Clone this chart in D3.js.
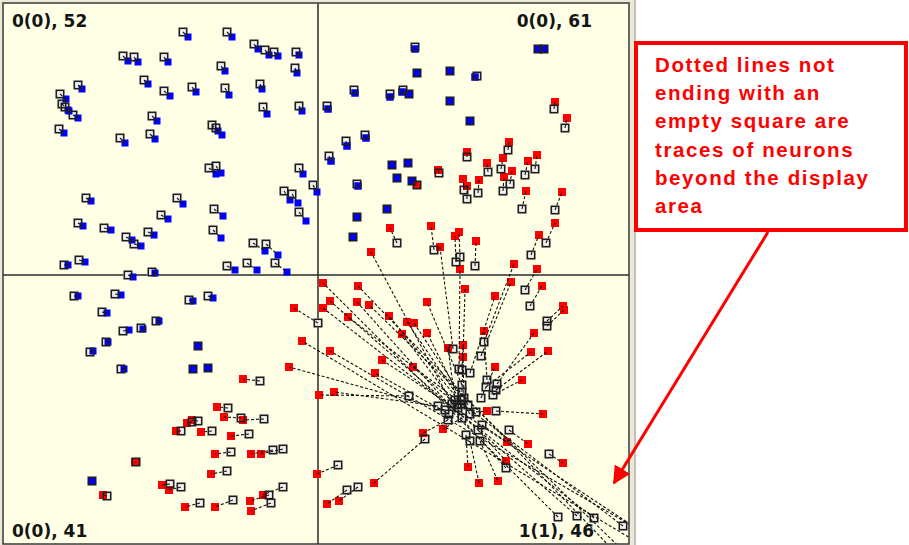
<!DOCTYPE html>
<html>
<head>
<meta charset="utf-8">
<script src="https://cdn.jsdelivr.net/npm/d3@7"></script>
<style>
  html, body { margin: 0; padding: 0; background: #ffffff; overflow: hidden; }
  svg { display: block; }
</style>
</head>
<body>
<svg id="chart" width="909" height="545"></svg>
<script>
// Map coordinates (map units, origin at the quadrant cross, y pointing up).
// Every row: [neuronX, neuronY, sampleX, sampleY]
// The neuron is drawn as an empty square, the sample as a filled square,
// and a dotted trace joins the two.

const quadrantLabels = ["0(0), 52", "0(0), 61", "0(0), 41", "1(1), 46"];

const blueTopLeft = [
  [-135,243,-130,238], [-91,243,-86,238], [-64,231,-60,226], [-53,225,-49,220],
  [-44,223,-40,219], [-22,223,-19,220], [-195,219,-190,214], [-184,218,-180,213],
  [-154,218,-150,213], [-97,209,-93,204], [-23,207,-21,202], [-240,190,-236,186],
  [-174,195,-170,191], [-154,184,-148,179], [-126,188,-122,183], [-93,187,-89,180],
  [-58,191,-56,186], [-258,181,-252,176], [-256,171,-250,165], [-253,168,-249,164],
  [-245,160,-240,157], [-55,168,-51,161], [-19,169,-16,164], [-166,159,-161,154],
  [-106,150,-100,144], [-102,147,-96,140], [-259,146,-254,142], [-198,137,-193,132],
  [-168,141,-163,136], [-109,107,-102,101], [-102,109,-97,102], [-19,107,-15,101],
  [-5,90,-1,83], [-34,84,-28,75], [-26,81,-20,72], [-19,63,-12,54],
  [-232,77,-227,74], [-141,77,-135,71], [-104,66,-95,59], [-157,60,-150,56],
  [-240,52,-235,49], [-214,47,-207,45], [-105,45,-97,37], [-170,43,-164,40],
  [-192,38,-186,35], [-184,31,-177,29], [-65,32,-53,24], [-52,31,-40,20],
  [-254,10,-250,10], [-239,15,-233,13], [-91,9,-83,5], [-71,12,-61,5],
  [-43,12,-31,3], [-190,0,-185,-2], [-166,3,-163,2]
];

const blueTopRight = [
  [97,228,97,226], [220,226,220,226], [226,226,226,226], [99,202,99,202],
  [132,204,132,204], [159,199,157,198], [36,185,37,182], [72,181,72,178],
  [85,185,84,183], [91,181,91,181], [132,174,132,174], [152,154,152,154],
  [9,169,10,166], [47,140,48,137], [28,134,29,129], [11,119,13,114],
  [74,110,74,110], [90,112,90,112], [79,97,79,97], [94,94,94,94],
  [39,91,40,89], [69,66,69,66], [39,58,39,58], [35,38,35,38]
];

const blueBottomLeft = [
  [-244,-21,-240,-21], [-203,-19,-197,-20], [-129,-25,-125,-26], [-110,-21,-105,-23],
  [-216,-37,-211,-38], [-162,-46,-159,-46], [-195,-56,-189,-55], [-177,-53,-175,-54],
  [-212,-67,-210,-67], [-228,-77,-225,-76], [-120,-71,-120,-71], [-197,-94,-194,-94],
  [-125,-94,-125,-94], [-110,-93,-110,-93], [-226,-206,-226,-206]
];

const redTopRight = [
  [236,166,237,173], [247,147,249,157], [190,125,191,133], [149,118,149,123],
  [121,102,120,105], [170,103,169,112], [183,106,185,117], [207,100,210,114],
  [217,106,219,120], [192,91,194,104], [185,84,186,98], [146,85,145,96],
  [149,76,149,89], [160,82,161,95], [204,66,208,84], [237,65,244,83],
  [79,32,72,47], [116,25,113,49], [142,18,141,43], [138,13,137,39],
  [157,9,158,34], [228,32,237,52], [213,20,221,40], [99,90,99,90],
  [135,-74,122,28], [141,-94,142,6], [166,-67,196,11], [207,-15,219,6],
  [134,-129,53,23]
];

const redBottomLeft = [
  [0,-48,-24,-33], [482,-365,-16,-66], [127,-135,-29,-92], [-58,-106,-75,-104],
  [-90,-133,-101,-132], [-77,-143,-94,-142], [-54,-144,-75,-145], [-120,-146,-126,-145],
  [-126,-147,-131,-148], [-137,-156,-142,-156], [-106,-156,-117,-157], [-69,-159,-87,-161],
  [-87,-177,-103,-179], [-45,-175,-67,-179], [-35,-174,-57,-179], [-182,-187,-183,-187],
  [-91,-196,-107,-199], [-148,-209,-156,-210], [-137,-212,-149,-215], [-211,-221,-215,-220],
  [-118,-228,-133,-232], [-85,-225,-103,-232], [-49,-220,-68,-226], [-35,-212,-55,-220],
  [-47,-228,-67,-236]
];

const redBottomRight = [
  [240,-242,5,-8], [259,-241,12,-26], [276,-243,5,-33], [305,-251,30,-42],
  [382,-365,40,-11], [188,-193,39,-27], [382,-350,51,-30], [144,-129,71,-41],
  [152,-139,89,-47], [150,-130,96,-48], [144,-110,109,-27], [144,-117,147,-14],
  [163,-81,193,-7], [152,-98,177,-21], [212,-31,224,-11], [229,-46,245,-31],
  [229,-51,246,-35], [140,-133,84,-59], [143,-125,109,-58], [169,-105,166,-56],
  [144,-95,145,-70], [137,-125,130,-73], [146,-123,145,-82], [442,-325,12,-76],
  [442,-335,64,-85], [139,-130,95,-92], [91,-121,1,-120], [120,-131,16,-117],
  [163,-123,177,-92], [179,-109,216,-58], [168,-112,213,-77], [178,-115,230,-76],
  [175,-120,204,-105], [131,-139,57,-98], [178,-136,225,-139], [158,-137,169,-136],
  [144,-143,125,-154], [130,-145,105,-158], [107,-164,56,-208], [164,-150,189,-167],
  [191,-155,210,-169], [231,-179,245,-188], [160,-155,188,-186], [148,-160,150,-192],
  [152,-166,161,-208], [162,-166,180,-206], [20,-190,-1,-199], [40,-212,21,-226],
  [29,-215,9,-229]
];

const noteLines = [
  "Dotted lines not",
  "ending with an",
  "empty square are",
  "traces of neurons",
  "beyond the display",
  "area"
];

// ---------------------------------------------------------------------------

const svg = d3.select("#chart");
const frame = { left: 3, top: 3, right: 629, bottom: 544 };

const x = d3.scaleLinear().domain([-315, 311]).range([frame.left, frame.right]);
const y = d3.scaleLinear().domain([272, -269]).range([frame.top, frame.bottom]);

// window surround
svg.append("rect")
  .attr("x", 0).attr("y", 0).attr("width", 636).attr("height", 545)
  .attr("fill", "#ece9d8");
svg.append("line")
  .attr("x1", 635).attr("x2", 635).attr("y1", 0).attr("y2", 545)
  .attr("stroke", "#9c9a90").attr("stroke-width", 1);

svg.append("defs").append("clipPath").attr("id", "plotClip")
  .append("rect")
  .attr("x", frame.left).attr("y", frame.top)
  .attr("width", frame.right - frame.left).attr("height", frame.bottom - frame.top);

svg.append("rect")
  .attr("x", frame.left).attr("y", frame.top)
  .attr("width", frame.right - frame.left).attr("height", frame.bottom - frame.top)
  .attr("fill", "#ffffe6");

const plot = svg.append("g").attr("clip-path", "url(#plotClip)");

// quadrant dividers
plot.append("line")
  .attr("x1", x(0)).attr("x2", x(0)).attr("y1", frame.top).attr("y2", frame.bottom)
  .attr("stroke", "#2a2a2a").attr("stroke-width", 1.5);
plot.append("line")
  .attr("x1", frame.left).attr("x2", frame.right).attr("y1", y(0)).attr("y2", y(0))
  .attr("stroke", "#2a2a2a").attr("stroke-width", 1.5);

const groups = [
  { rows: blueTopLeft, color: "#0000ff", size: 7 },
  { rows: blueTopRight, color: "#0000ff", size: 7.5 },
  { rows: blueBottomLeft, color: "#0000ff", size: 7 },
  { rows: redTopRight, color: "#ff0000", size: 8 },
  { rows: redBottomLeft, color: "#ff0000", size: 8 },
  { rows: redBottomRight, color: "#ff0000", size: 8 }
];
const neurons = groups.flatMap(g => g.rows.map(r => ({
  nx: r[0], ny: r[1], sx: r[2], sy: r[3], color: g.color, size: g.size
})));

const box = 9;

// neuron square interiors
plot.append("g").selectAll("rect").data(neurons).join("rect")
  .attr("x", d => x(d.nx) - box / 2).attr("y", d => y(d.ny) - box / 2)
  .attr("width", box).attr("height", box)
  .attr("fill", "#f3f3ee");

// samples
plot.append("g").selectAll("rect").data(neurons).join("rect")
  .attr("x", d => x(d.sx) - d.size / 2).attr("y", d => y(d.sy) - d.size / 2)
  .attr("width", d => d.size).attr("height", d => d.size)
  .attr("fill", d => d.color);

// dotted traces
plot.append("g").selectAll("line").data(neurons).join("line")
  .attr("x1", d => x(d.nx)).attr("y1", d => y(d.ny))
  .attr("x2", d => x(d.sx)).attr("y2", d => y(d.sy))
  .attr("stroke", "#111").attr("stroke-width", 1.1)
  .attr("stroke-dasharray", "3,2");

// neuron square outlines
plot.append("g").selectAll("rect").data(neurons).join("rect")
  .attr("x", d => x(d.nx) - box / 2 + 0.8).attr("y", d => y(d.ny) - box / 2 + 0.8)
  .attr("width", box - 1.6).attr("height", box - 1.6)
  .attr("fill", "none").attr("stroke", "#1e1e1e").attr("stroke-width", 1.6);

// frame border
svg.append("rect")
  .attr("x", frame.left).attr("y", frame.top)
  .attr("width", frame.right - frame.left).attr("height", frame.bottom - frame.top)
  .attr("fill", "none").attr("stroke", "#3a3a3a").attr("stroke-width", 1.5);

// quadrant captions
const labelPos = [
  { x: 12, y: 27, anchor: "start" },
  { x: 592, y: 27, anchor: "end" },
  { x: 12, y: 537, anchor: "start" },
  { x: 594, y: 537, anchor: "end" }
];
svg.append("g").selectAll("text").data(quadrantLabels).join("text")
  .attr("x", (d, i) => labelPos[i].x).attr("y", (d, i) => labelPos[i].y)
  .attr("text-anchor", (d, i) => labelPos[i].anchor)
  .attr("font-family", "'DejaVu Sans', sans-serif")
  .attr("font-weight", "bold").attr("font-size", 17)
  .attr("fill", "#141414")
  .text(d => d);

// callout
const note = svg.append("g");
note.append("rect")
  .attr("x", 636).attr("y", 43).attr("width", 270).attr("height", 187)
  .attr("fill", "#ffffff").attr("stroke", "#ff0000").attr("stroke-width", 4);
note.append("g").selectAll("text").data(noteLines).join("text")
  .attr("x", 655).attr("y", (d, i) => 72 + i * 28.2)
  .attr("font-family", "'Liberation Sans', Arial, sans-serif")
  .attr("font-weight", "bold").attr("font-size", 20.5)
  .attr("letter-spacing", 1.6)
  .attr("fill", "#ff0000")
  .text(d => d);

svg.append("defs").append("marker")
  .attr("id", "arrowHead").attr("viewBox", "0 0 10 10")
  .attr("refX", 9).attr("refY", 5)
  .attr("markerWidth", 6).attr("markerHeight", 6)
  .attr("markerUnits", "strokeWidth")
  .attr("orient", "auto")
  .append("path").attr("d", "M0,0 L10,5 L0,10 Z").attr("fill", "#ff0000");

note.append("line")
  .attr("x1", 768).attr("y1", 232).attr("x2", 614).attr("y2", 483)
  .attr("stroke", "#ff0000").attr("stroke-width", 3)
  .attr("marker-end", "url(#arrowHead)");
</script>
</body>
</html>
